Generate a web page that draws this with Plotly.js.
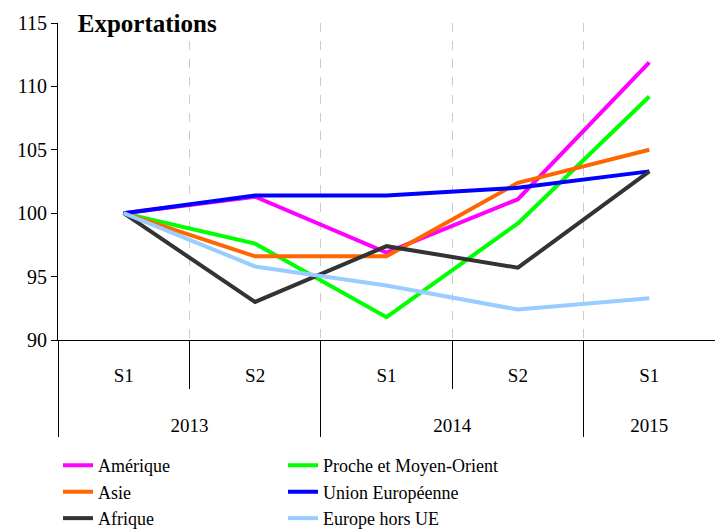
<!DOCTYPE html>
<html>
<head>
<meta charset="utf-8">
<script src="https://cdn.plot.ly/plotly-3.0.1.min.js"></script>
<style>
  html, body { margin: 0; padding: 0; background: #fff; }
  #chart { width: 715px; height: 531px; }
</style>
</head>
<body>
<div id="chart"></div>
<script>
// Exportations, indice base 100 au S1 2013
const years = ['2013', '2013', '2014', '2014', '2015'];
const halves = ['S1', 'S2', 'S1', 'S2', 'S1'];

const amerique = [100, 101.3, 96.9, 101.1, 111.9];
const procheMoyenOrient = [100, 97.6, 91.8, 99.2, 109.2];
const asie = [100, 96.6, 96.6, 102.4, 105.0];
const unionEuropeenne = [100, 101.4, 101.4, 102.0, 103.3];
const afrique = [100, 93.0, 97.4, 95.7, 103.3];
const europeHorsUE = [100, 95.8, 94.3, 92.4, 93.3];

// lignes vides sous S1/S2 pour descendre la rangée des années
const halfLabels = halves.map(h => h + '<br> <br><span style="font-size:1px"> </span>');

function serie(name, y, color) {
    return {
        x: [years, halfLabels],
        y: y,
        type: 'scatter',
        mode: 'lines',
        name: name,
        line: { color: color, width: 4 }
    };
}

// ordre pour que la légende se remplisse ligne par ligne sur deux colonnes
const data = [
    serie('Amérique', amerique, '#ff00ff'),
    serie('Proche et Moyen-Orient', procheMoyenOrient, '#00ff00'),
    serie('Asie', asie, '#ff6600'),
    serie('Union Européenne', unionEuropeenne, '#0000ff'),
    serie('Afrique', afrique, '#333333'),
    serie('Europe hors UE', europeHorsUE, '#99ccff')
];

const layout = {
    width: 715,
    height: 531,
    paper_bgcolor: '#ffffff',
    plot_bgcolor: '#ffffff',
    font: { family: '"Liberation Serif", "Times New Roman", serif', size: 19, color: '#000000' },
    margin: { l: 58, r: 0, t: 23, b: 191, autoexpand: false },
    title: {
        text: '<b>Exportations</b>',
        font: { size: 25 },
        x: 0.03,
        xref: 'paper',
        xanchor: 'left',
        y: 0.957,
        yref: 'container',
        yanchor: 'middle'
    },
    showlegend: true,
    legend: {
        orientation: 'h',
        x: 0,
        xanchor: 'left',
        y: -0.338,
        yanchor: 'top',
        entrywidth: 180,
        entrywidthmode: 'pixels',
        font: { size: 18 },
        bgcolor: 'rgba(0,0,0,0)'
    },
    xaxis: {
        type: 'multicategory',
        range: [-0.5, 4.5],
        tickson: 'boundaries',
        ticks: 'outside',
        ticklen: 48,
        tickcolor: '#000000',
        tickwidth: 1,
        ticklabelstandoff: 18,
        tickfont: { size: 19 },
        showdividers: true,
        dividercolor: '#000000',
        dividerwidth: 1,
        showline: true,
        linecolor: '#000000',
        linewidth: 1,
        showgrid: true,
        gridcolor: '#cccccc',
        griddash: 'dash',
        gridwidth: 1,
        zeroline: false
    },
    yaxis: {
        range: [90, 115],
        dtick: 5,
        ticks: 'outside',
        ticklen: 6,
        tickcolor: '#000000',
        tickfont: { size: 20 },
        showline: true,
        linecolor: '#000000',
        linewidth: 1,
        showgrid: false,
        zeroline: false
    }
};

Plotly.newPlot('chart', data, layout, { displayModeBar: false });
</script>
</body>
</html>
